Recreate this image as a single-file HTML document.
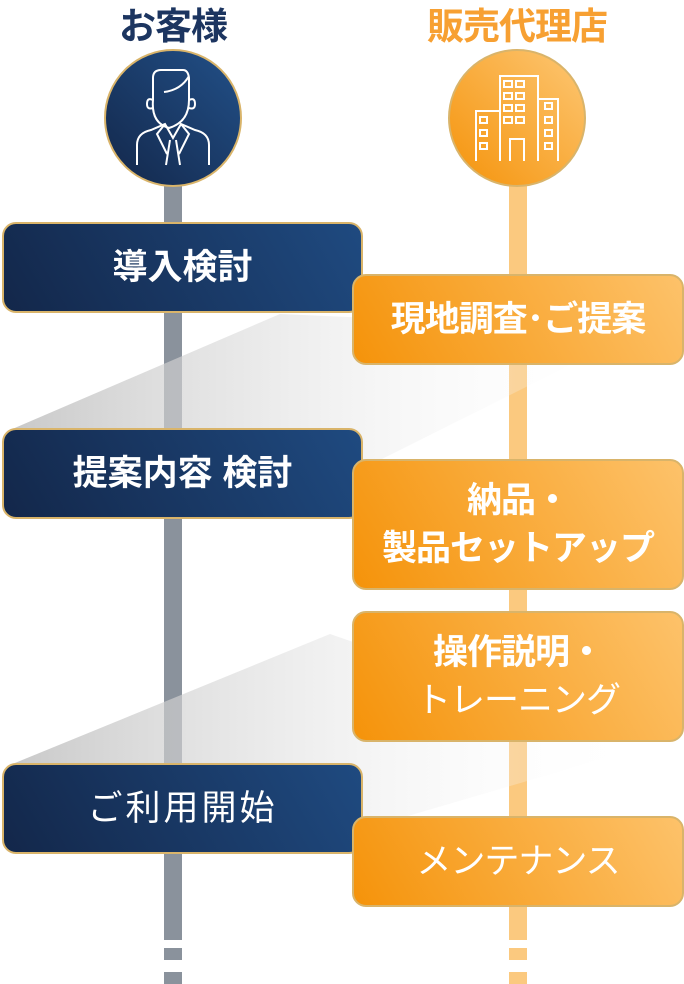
<!DOCTYPE html>
<html><head><meta charset="utf-8"><style>
body{margin:0;width:684px;height:984px;background:#fff;position:relative;overflow:hidden;font-family:"Liberation Sans","Noto Sans CJK JP",sans-serif}
.t{position:absolute;font-weight:bold;font-size:37px;text-align:center;width:240px;top:-4px;letter-spacing:-1px}
.box{position:absolute;box-sizing:border-box;border-radius:14px;border:2px solid #d9b46a;color:#fff;font-size:35px;font-weight:bold;display:flex;align-items:center;justify-content:center;text-align:center;line-height:48px}
.box>div{display:block;white-space:nowrap}
.n{background:linear-gradient(60deg,#13274a,#1f4a80);left:2px;width:361px;height:91px}
.o{background:linear-gradient(60deg,#f5930a,#fdc26a);left:352px;width:332px;letter-spacing:-1px}
</style></head><body>
<div class="t" style="left:53px;color:#1c3560">お客様</div>
<div class="t" style="left:397px;color:#f7a032">販売代理店</div>
<svg width="684" height="984" style="position:absolute;left:0;top:0">
<defs>
<linearGradient id="g" x1="0" y1="0" x2="1" y2="0"><stop offset="0" stop-color="#bbb" stop-opacity=".8"/><stop offset=".6" stop-color="#eee" stop-opacity=".5"/><stop offset="1" stop-color="#fff" stop-opacity="0"/></linearGradient>
<linearGradient id="cn" x1="0" y1="1" x2="1" y2="0"><stop offset="0" stop-color="#13274a"/><stop offset="1" stop-color="#225088"/></linearGradient>
<linearGradient id="co" x1="0" y1="1" x2="1" y2="0"><stop offset="0" stop-color="#f5930a"/><stop offset="1" stop-color="#fdc774"/></linearGradient>
</defs>
<rect x="164" y="180" width="18" height="760" fill="#8a929c"/>
<rect x="164" y="948" width="18" height="12" fill="#8a929c"/><rect x="164" y="972" width="18" height="12" fill="#8a929c"/>
<rect x="509" y="180" width="18" height="760" fill="#fbc97f"/>
<rect x="509" y="948" width="18" height="12" fill="#fbc97f"/><rect x="509" y="972" width="18" height="12" fill="#fbc97f"/>
<polygon points="10,430 280,314 640,330 360,470" fill="url(#g)"/>
<polygon points="10,765 330,634 650,745 360,830" fill="url(#g)"/>
<circle cx="173" cy="118" r="68" fill="url(#cn)" stroke="#d9b46a" stroke-width="2"/>
<circle cx="517" cy="118" r="68" fill="url(#co)" stroke="#d9b46a" stroke-width="2"/>
<g fill="none" stroke="#fff" stroke-width="2">
<path d="M153 100 v-22 q0-8 8-8 h22 q5 0 6 8 v22 q0 22-20 28 q-18-5-16-28z M153 100 q-6-3-6 4 q0 6 6 4 M189 100 q6-3 6 4 q0 6-6 4 M189 76 q-8 14-25 16"/>
<path d="M137 165 v-20 q0-12 14-15 l14-6 l8 14 l8-14 l14 6 q14 3 14 15 v20 M165 124 l-8 10 l10 20 M181 124 l8 10 l-10 20 M170 140 l-4 25 M176 140 l4 25"/>
<path d="M500 161 v-85 h38 v85 M476 161 v-50 h24 M538 161 v-62 h20 v62 M510 161 v-22 h14 v22"/>
<path d="M504 81h8v6h-8z M516 81h8v6h-8z M504 93h8v6h-8z M516 93h8v6h-8z M504 105h8v6h-8z M516 105h8v6h-8z M504 117h8v6h-8z M516 117h8v6h-8z M480 117h7v6h-7z M480 130h7v6h-7z M480 143h7v6h-7z M545 103h7v6h-7z M545 117h7v6h-7z M545 130h7v6h-7z M545 143h7v6h-7z"/>
</g>
</svg>
<div class="box n" style="top:222px"><div>導入検討</div></div>
<div class="box n" style="top:428px"><div>提案内容 検討</div></div>
<div class="box n" style="top:763px;font-weight:normal;letter-spacing:3px"><div>ご利用開始</div></div>
<div class="box o" style="top:274px;height:91px"><div>現地調査･ご提案</div></div>
<div class="box o" style="top:459px;height:131px"><div>納品・<br>製品セットアップ</div></div>
<div class="box o" style="top:611px;height:131px"><div>操作説明・<br><span style="font-weight:normal">トレーニング</span></div></div>
<div class="box o" style="top:816px;height:91px;font-weight:normal"><div>メンテナンス</div></div>
</body></html>
